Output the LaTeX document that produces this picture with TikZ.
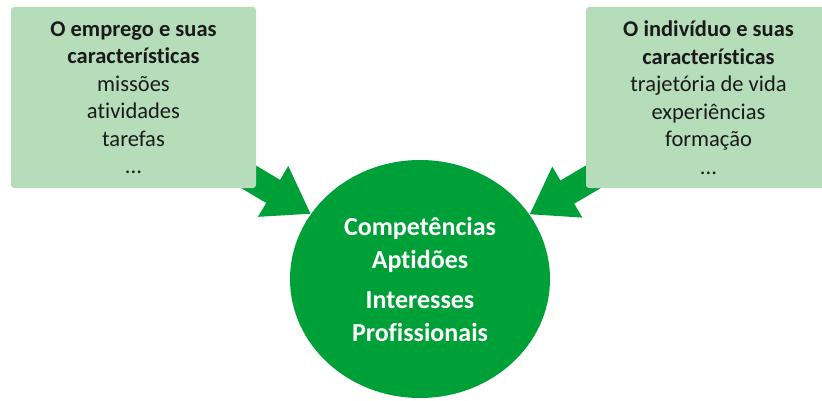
\documentclass[tikz,border=0pt]{standalone}
\usepackage{fontspec}
\setmainfont{Carlito}[Ligatures=NoCommon]
\usepackage{xcolor}
\usetikzlibrary{shapes.geometric,arrows.meta,backgrounds}
\definecolor{boxgreen}{RGB}{182,221,185}
\definecolor{darkgreen}{RGB}{0,160,57}
\definecolor{boxtext}{RGB}{26,26,26}

\begin{document}
\begin{tikzpicture}[x=1pt,y=-1pt,
    infobox/.style={fill=boxgreen,rounded corners=3pt,minimum width=245pt,minimum height=181pt,
        align=center,text=boxtext,font=\fontsize{22.5}{27.5}\selectfont},
    centre/.style={ellipse,fill=darkgreen,minimum width=260pt,minimum height=238pt,
        align=center,text=white,font=\bfseries\fontsize{26}{33}\selectfont},
    bigarrow/.style={darkgreen,line width=27pt,-{Triangle[length=44pt,width=56pt]}}]
    \useasboundingbox (0,0) rectangle (822,401);
    \clip (0,0) rectangle (822,401);
    \node[infobox] (emprego) at (133.5,97.5) {\textbf{O emprego e suas}\\\textbf{características}\\missões\\atividades\\tarefas\\...};
    \node[infobox] (individuo) at (708.5,97.5) {\textbf{O indivíduo e suas}\\\textbf{características}\\trajetória de vida\\experiências\\formação\\...};
    \node[centre] (comp) at (420,279) {Competências\\Aptidões\\[7pt]Interesses\\Profissionais};
    \coordinate (efrom) at ([shift={(-17pt,17pt)}]emprego.south east);
    \coordinate (ifrom) at ([shift={(17pt,17pt)}]individuo.south west);
    \begin{scope}[on background layer]
        \draw[bigarrow] (efrom) -- (comp);
        \draw[bigarrow] (ifrom) -- (comp);
    \end{scope}
\end{tikzpicture}
\end{document}
